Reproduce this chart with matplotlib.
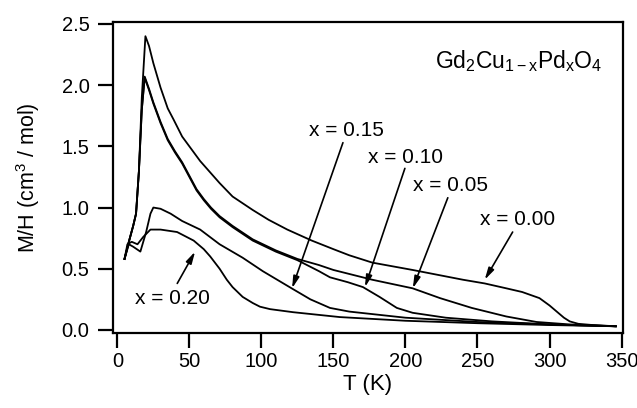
import matplotlib
matplotlib.use("Agg")
import matplotlib.pyplot as plt
import numpy as np

plt.rcParams['font.family'] = ['Liberation Sans', 'DejaVu Sans']
plt.rcParams['mathtext.fontset'] = 'custom'
plt.rcParams['mathtext.rm'] = 'Liberation Sans'
plt.rcParams['mathtext.it'] = 'Liberation Sans'
plt.rcParams['mathtext.default'] = 'regular'

# ---- data ----
T_x000 = [5, 8, 11, 13, 15, 17, 19.5, 22, 25, 30, 35, 39, 45, 57.5, 71, 80, 94, 105, 118, 135, 150, 161, 177, 205, 240, 255, 270, 281, 293, 300, 305, 310, 314, 320, 330, 346]
M_x000 = [0.58, 0.72, 0.85, 0.95, 1.3, 1.9, 2.40, 2.32, 2.18, 1.98, 1.81, 1.72, 1.58, 1.38, 1.2, 1.09, 0.98, 0.9, 0.82, 0.73, 0.66, 0.61, 0.55, 0.49, 0.41, 0.38, 0.34, 0.31, 0.26, 0.2, 0.15, 0.1, 0.07, 0.05, 0.04, 0.03]

T_x005 = [5, 8, 11, 13, 15, 17, 19, 22, 25, 30, 35, 40, 45, 50, 55, 60, 65, 71, 80, 94, 110, 125, 140, 150, 177, 205, 224, 246, 270, 291, 314, 346]
M_x005 = [0.58, 0.72, 0.85, 0.95, 1.3, 1.8, 2.07, 1.97, 1.86, 1.70, 1.56, 1.46, 1.37, 1.26, 1.15, 1.07, 1.0, 0.93, 0.85, 0.74, 0.65, 0.58, 0.53, 0.49, 0.41, 0.34, 0.26, 0.18, 0.11, 0.065, 0.045, 0.03]

T_x010 = [5, 8, 11, 13, 15, 17, 19, 22, 25, 30, 35, 40, 45, 50, 55, 60, 65, 71, 80, 94, 110, 125, 140, 147.6, 160, 170.5, 182, 194, 205, 228, 260, 300, 346]
M_x010 = [0.58, 0.72, 0.85, 0.95, 1.3, 1.8, 2.06, 1.96, 1.85, 1.69, 1.55, 1.45, 1.36, 1.25, 1.14, 1.06, 0.99, 0.92, 0.84, 0.73, 0.64, 0.57, 0.48, 0.43, 0.39, 0.35, 0.27, 0.18, 0.14, 0.10, 0.07, 0.045, 0.03]

T_x015 = [5, 8, 11, 16, 20, 23, 25, 30, 37, 45, 57.5, 71, 87, 101, 121, 134, 147.6, 161, 200, 250, 300, 346]
M_x015 = [0.58, 0.70, 0.68, 0.64, 0.80, 0.95, 1.0, 0.99, 0.95, 0.89, 0.82, 0.70, 0.59, 0.48, 0.34, 0.25, 0.18, 0.15, 0.10, 0.065, 0.045, 0.03]

T_x020 = [5, 7, 10, 14, 18, 23, 30, 41.5, 53, 60, 64.5, 71, 76, 80, 87, 94, 99, 106, 122, 154.5, 200, 250, 300, 346]
M_x020 = [0.58, 0.70, 0.72, 0.70, 0.76, 0.82, 0.82, 0.80, 0.73, 0.66, 0.60, 0.50, 0.41, 0.35, 0.27, 0.22, 0.19, 0.17, 0.145, 0.105, 0.075, 0.055, 0.04, 0.03]

x_ticks = [0, 50, 100, 150, 200, 250, 300, 350]
y_ticks = [0.0, 0.5, 1.0, 1.5, 2.0, 2.5]

labels = ["x = 0.00", "x = 0.05", "x = 0.10", "x = 0.15", "x = 0.20"]
label_text_pos = [(277.9, 0.90), (231.5, 1.18), (200.3, 1.41), (158.7, 1.63), (38.1, 0.26)]
arrow_start = [(274.4, 0.80), (229.4, 1.08), (199.6, 1.32), (156.6, 1.53), (41.6, 0.38)]
arrow_tip = [(255, 0.41), (205.1, 0.34), (171.9, 0.35), (121.3, 0.34), (54, 0.64)]

# ---- figure ----
fig = plt.figure(figsize=(6.37, 4.08), dpi=100)
ax = fig.add_axes([113/637, 1 - 333/408, (623-113)/637, (333-22)/408])

for T, M in [(T_x000, M_x000), (T_x005, M_x005), (T_x010, M_x010), (T_x015, M_x015), (T_x020, M_x020)]:
    ax.plot(T, M, color='black', lw=1.3)

ax.set_xlim(-3, 351)
ax.set_ylim(-0.025, 2.516)
ax.set_xticks(x_ticks)
ax.set_yticks(y_ticks)
ax.set_yticklabels([f"{v:.1f}" for v in y_ticks])
ax.tick_params(axis='both', direction='out', length=11, width=1.6, labelsize=14.5)
ax.tick_params(axis='x', pad=3)
ax.tick_params(axis='y', pad=6)
for s in ax.spines.values():
    s.set_linewidth(1.6)

ax.set_xlabel("T (K)", fontsize=16, labelpad=2)
ax.set_ylabel("M/H (cm$^3$ / mol)", fontsize=15.5, labelpad=14)

ax.text(336.8, 2.2, "Gd$_2$Cu$_{1\u2212x}$Pd$_x$O$_4$", fontsize=16.5, ha='right', va='center')

for lab, tp, st, tip in zip(labels, label_text_pos, arrow_start, arrow_tip):
    ax.text(tp[0], tp[1], lab, fontsize=15, ha='center', va='center')
    ax.annotate("", xy=tip, xytext=st,
                arrowprops=dict(arrowstyle='-|>,head_length=0.7,head_width=0.18',
                                color='black', lw=1.2, shrinkA=0, shrinkB=0))

fig.savefig("out.png", dpi=100)
